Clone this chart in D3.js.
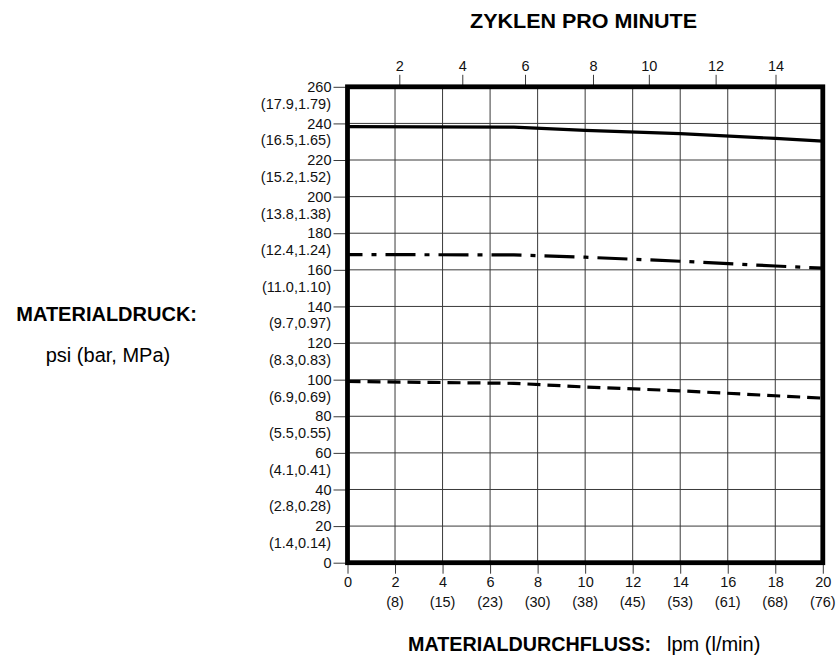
<!DOCTYPE html>
<html><head><meta charset="utf-8">
<script src="https://cdn.jsdelivr.net/npm/d3@7"></script>
<style>body{margin:0;background:#fff}svg{display:block;font-family:"Liberation Sans",Arial,Helvetica,sans-serif}</style>
</head><body><svg id="c" width="838" height="662"></svg>
<script>
// ---- data ----
const flowTicks = [0, 2, 4, 6, 8, 10, 12, 14, 16, 18, 20];
const flowLpm = ["", "(8)", "(15)", "(23)", "(30)", "(38)", "(45)", "(53)", "(61)", "(68)", "(76)"];
const psiTicks = [0, 20, 40, 60, 80, 100, 120, 140, 160, 180, 200, 220, 240, 260];
const barMpa = ["", "(1.4,0.14)", "(2.8,0.28)", "(4.1,0.41)", "(5.5,0.55)", "(6.9,0.69)", "(8.3,0.83)",
  "(9.7,0.97)", "(11.0,1.10)", "(12.4,1.24)", "(13.8,1.38)", "(15.2,1.52)", "(16.5,1.65)", "(17.9,1.79)"];
const cycleTicks = [2, 4, 6, 8, 10, 12, 14];
const cycleAtFlow = [2.18, 4.83, 7.47, 10.33, 12.68, 15.49, 18.01];
const flowPts = [0, 7, 10, 14, 18, 20];
const seriesSolid = [238.2, 238.0, 236.2, 234.4, 231.8, 230.3];
const seriesDashDot = [168.3, 168.2, 166.9, 164.7, 162.1, 160.9];
const seriesDashed = [99.0, 98.0, 96.0, 93.9, 91.2, 89.9];

// ---- layout ----
const svg = d3.select("#c");
const x = d3.scaleLinear().domain([0, 20]).range([347.5, 822.8]);
const y = d3.scaleLinear().domain([0, 260]).range([562.7, 86.8]);
const gridColor = "#3a3a3a";

// grid
svg.append("g").selectAll("line").data(flowTicks.filter(d => d > 0 && d < 20)).join("line")
  .attr("x1", d => x(d)).attr("x2", d => x(d)).attr("y1", y(0)).attr("y2", y(260))
  .attr("stroke", gridColor).attr("stroke-width", 1);
svg.append("g").selectAll("line").data(psiTicks.filter(d => d > 0 && d < 260)).join("line")
  .attr("x1", x(0)).attr("x2", x(20)).attr("y1", d => y(d)).attr("y2", d => y(d))
  .attr("stroke", gridColor).attr("stroke-width", 1);

// left axis
const leftAxis = svg.append("g").attr("transform", `translate(${x(0)},0)`)
  .call(d3.axisLeft(y).tickValues(psiTicks).tickSize(14).tickPadding(2).tickFormat(d3.format("d")));
leftAxis.select(".domain").remove();
leftAxis.selectAll(".tick line").attr("stroke", gridColor);
leftAxis.selectAll(".tick text").attr("font-size", 14.5).attr("fill", "#111").attr("font-family", null);
svg.append("g").selectAll("text").data(psiTicks.filter(d => d > 0)).join("text")
  .attr("x", 331).attr("y", d => y(d) + 22).attr("text-anchor", "end")
  .attr("font-size", 14.5).attr("fill", "#111").text(d => barMpa[psiTicks.indexOf(d)]);

// bottom axis
const bottomAxis = svg.append("g").attr("transform", `translate(0,${y(0)})`)
  .call(d3.axisBottom(x).tickValues(flowTicks).tickSize(11).tickPadding(3).tickFormat(d3.format("d")));
bottomAxis.select(".domain").remove();
bottomAxis.selectAll(".tick line").attr("stroke", gridColor);
bottomAxis.selectAll(".tick text").attr("font-size", 14.5).attr("fill", "#111").attr("font-family", null);
svg.append("g").selectAll("text").data(flowTicks).join("text")
  .attr("x", d => x(d)).attr("y", 607).attr("text-anchor", "middle")
  .attr("font-size", 14.5).attr("fill", "#111").text((d, i) => flowLpm[i]);

// top axis (cycles per minute)
const xc = d3.scaleLinear().domain([0, 20]).range(x.range());
const topAxis = svg.append("g").attr("transform", `translate(0,${y(260)})`)
  .call(d3.axisTop(xc).tickValues(cycleAtFlow).tickSize(12).tickPadding(4)
    .tickFormat((d, i) => cycleTicks[i]));
topAxis.select(".domain").remove();
topAxis.selectAll(".tick line").attr("stroke", gridColor);
topAxis.selectAll(".tick text").attr("font-size", 14.5).attr("fill", "#111").attr("font-family", null);

// lines
const line = vals => d3.line().x((d, i) => x(flowPts[i])).y(d => y(d))(vals);
svg.append("path").attr("d", line(seriesSolid)).attr("fill", "none")
  .attr("stroke", "#000").attr("stroke-width", 3.2);
svg.append("path").attr("d", line(seriesDashDot)).attr("fill", "none")
  .attr("stroke", "#000").attr("stroke-width", 3.2)
  .attr("stroke-dasharray", "30,9,5,9").attr("stroke-dashoffset", 15);
svg.append("path").attr("d", line(seriesDashed)).attr("fill", "none")
  .attr("stroke", "#000").attr("stroke-width", 3.2)
  .attr("stroke-dasharray", "13,7");

// frame
svg.append("rect").attr("x", x(0)).attr("y", y(260))
  .attr("width", x(20) - x(0)).attr("height", y(0) - y(260))
  .attr("fill", "none").attr("stroke", "#000").attr("stroke-width", 4.8);

// titles
svg.append("text").attr("x", 470).attr("y", 28).attr("font-size", 20).attr("font-weight", "bold")
  .attr("textLength", 227).attr("lengthAdjust", "spacingAndGlyphs").text("ZYKLEN PRO MINUTE");
const bt = svg.append("text").attr("y", 651).attr("font-size", 20);
bt.append("tspan").attr("x", 408).attr("font-weight", "bold").attr("textLength", 243)
  .attr("lengthAdjust", "spacingAndGlyphs").text("MATERIALDURCHFLUSS:");
bt.append("tspan").attr("x", 667).text("lpm (l/min)");
svg.append("text").attr("x", 197).attr("y", 321).attr("font-size", 20).attr("font-weight", "bold")
  .attr("text-anchor", "end").text("MATERIALDRUCK:");
svg.append("text").attr("x", 108).attr("y", 362).attr("font-size", 20)
  .attr("text-anchor", "middle").text("psi (bar, MPa)");
</script></body></html>
